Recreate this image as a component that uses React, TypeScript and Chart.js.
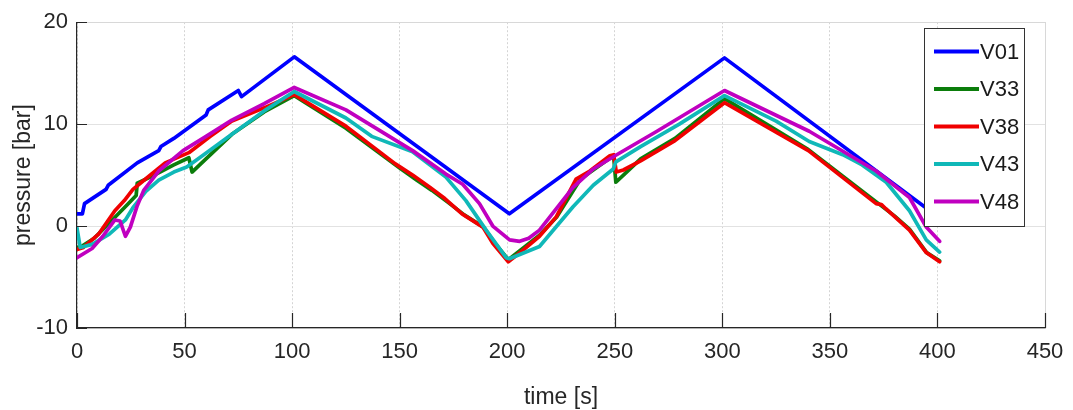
import React, { useEffect, useRef } from "react";
import { Chart, registerables } from "chart.js";

Chart.register(...registerables);

const seriesNames = ["V01", "V33", "V38", "V43", "V48"];
const seriesColors = ["#0000ff", "#0b7d0b", "#f00000", "#10b8b8", "#c000c0"];

const tV01 = [0, 2.5, 3.5, 13.5, 14.5, 28, 38, 39, 45, 60, 61, 75, 76.5, 101, 201, 301, 401];
const pV01 = [1.2, 1.2, 2.2, 3.6, 4.0, 6.2, 7.4, 7.8, 8.6, 10.9, 11.4, 13.3, 12.7, 16.6, 1.2, 16.5, 0.8];

const tV33 = [0, 2, 8, 15, 22, 27.5, 28, 35, 45, 52, 53.5, 58, 72, 87, 101, 125, 150, 158, 165, 172, 180, 189, 194, 200.5, 206, 215, 223, 234, 240, 248, 249.5, 250.5, 255, 262, 278, 301, 340, 372, 380, 387, 395, 401];
const pV33 = [-2.1, -2.0, -1.2, 0.3, 1.8, 3.0, 4.2, 4.9, 6.0, 6.7, 5.3, 6.2, 9.0, 11.2, 12.8, 9.6, 5.7, 4.5, 3.5, 2.4, 1.1, -0.1, -1.6, -3.3, -2.4, -0.9, 0.9, 4.6, 5.5, 6.7, 6.8, 4.3, 5.2, 6.6, 8.6, 12.5, 7.5, 2.3, 1.0, -0.3, -2.6, -3.4];

const tV38 = [0, 3, 10, 17.6, 22, 26, 30, 41, 52, 62, 72, 87, 101, 125, 148, 156, 164, 171, 179, 188.7, 193.3, 200.5, 206, 215, 222.8, 227.5, 232, 238.4, 247.7, 249.5, 250.7, 254, 262, 277.4, 301, 340, 371.5, 374, 376, 387, 394.8, 401];
const pV38 = [-2.3, -2.1, -0.8, 1.5, 2.5, 3.6, 4.3, 6.2, 7.2, 8.8, 10.3, 11.6, 12.9, 9.8, 6.1, 5.0, 3.8, 2.7, 1.2, -0.1, -1.7, -3.5, -2.6, -1.0, 0.9, 2.8, 4.6, 5.4, 6.9, 7.0, 5.3, 5.5, 6.4, 8.3, 12.1, 7.4, 2.2, 2.1, 1.7, -0.4, -2.6, -3.5];

const tV43 = [0, 1.5, 7, 15, 22.5, 26, 32, 38, 45, 51, 57, 72, 87, 101, 125, 137, 156, 171.5, 180.8, 190.2, 199.5, 201, 215, 230.6, 240, 249.3, 250.5, 262, 280, 301, 325, 340.4, 356, 365, 376.2, 387, 394.8, 401];
const pV43 = [-0.2, -2.1, -1.8, -0.8, 0.6, 1.8, 3.4, 4.5, 5.3, 5.8, 6.7, 9.0, 11.3, 13.2, 10.6, 8.8, 7.3, 4.8, 2.5, -0.4, -3.1, -3.2, -2.0, 1.9, 4.0, 5.6, 6.3, 7.8, 10.0, 12.8, 10.3, 8.3, 7.0, 6.0, 4.3, 1.5, -1.35, -2.55];

const tV48 = [0, 7, 12, 17.6, 20, 22.5, 24.8, 28, 31, 38, 49.3, 60, 72, 87, 101, 125, 156, 171.5, 179.3, 187.1, 193.3, 201.1, 205.8, 210, 215, 230.6, 240, 250.1, 269.6, 301, 340.4, 371.5, 387, 394.8, 401];
const pV48 = [-3.1, -2.2, -1.0, 0.6, 0.5, -1.0, -0.1, 2.0, 3.5, 5.4, 7.4, 8.8, 10.4, 12.0, 13.6, 11.4, 7.4, 5.1, 4.1, 2.2, 0.0, -1.35, -1.5, -1.2, -0.4, 3.8, 5.6, 6.9, 9.3, 13.3, 9.3, 5.4, 2.8, -0.1, -1.5];

const seriesTimes = [tV01, tV33, tV38, tV43, tV48];
const seriesValues = [pV01, pV33, pV38, pV43, pV48];

const xTicks = [0, 50, 100, 150, 200, 250, 300, 350, 400, 450];
const yTicks = [-10, 0, 10, 20];

const xTitle = "time [s]";
const yTitle = "pressure [bar]";

const FONT = "'Liberation Sans', Arial, Helvetica, sans-serif";

const overlayPlugin = {
  id: "matlabOverlay",
  afterDraw(chart: any) {
    const ctx = chart.ctx as CanvasRenderingContext2D;
    const area = chart.chartArea;
    const xs = chart.scales.x;
    const ys = chart.scales.y;
    ctx.save();
    ctx.strokeStyle = "#d8d8d8";
    ctx.lineWidth = 1;
    ctx.setLineDash([]);
    ctx.beginPath();
    ctx.moveTo(area.left, Math.round(area.top) + 0.5);
    ctx.lineTo(area.right, Math.round(area.top) + 0.5);
    ctx.moveTo(Math.round(area.right) + 0.5, area.top);
    ctx.lineTo(Math.round(area.right) + 0.5, area.bottom);
    ctx.stroke();
    ctx.strokeStyle = "#262626";
    ctx.lineWidth = 1.2;
    ctx.beginPath();
    xTicks.forEach((v) => {
      const px = Math.round(xs.getPixelForValue(v)) + 0.5;
      ctx.moveTo(px, area.bottom);
      ctx.lineTo(px, area.bottom - 15);
    });
    yTicks.forEach((v) => {
      const py = Math.round(ys.getPixelForValue(v)) + 0.5;
      ctx.moveTo(area.left, py);
      ctx.lineTo(area.left + 10, py);
    });
    ctx.stroke();

    const bx = 924.5, by = 28.5, bw = 100, bh = 198;
    ctx.fillStyle = "#ffffff";
    ctx.fillRect(bx, by, bw, bh);
    ctx.strokeStyle = "#333333";
    ctx.lineWidth = 1;
    ctx.strokeRect(bx, by, bw, bh);
    ctx.font = `22px ${FONT}`;
    ctx.textBaseline = "middle";
    ctx.textAlign = "left";
    seriesNames.forEach((name, i) => {
      const y = 51.5 + i * 37.5;
      ctx.strokeStyle = seriesColors[i];
      ctx.lineWidth = 4;
      ctx.beginPath();
      ctx.moveTo(934, y);
      ctx.lineTo(979, y);
      ctx.stroke();
      ctx.fillStyle = "#1a1a1a";
      ctx.fillText(name, 980, y + 1);
    });
    ctx.restore();
  },
};

export default function App() {
  const ref = useRef<HTMLCanvasElement | null>(null);

  useEffect(() => {
    document.body.style.margin = "0";
    const canvas = ref.current;
    if (!canvas) return;
    const datasets = seriesNames.map((name, i) => ({
      label: name,
      data: seriesTimes[i].map((t, j) => ({ x: t, y: seriesValues[i][j] })),
      borderColor: seriesColors[i],
      backgroundColor: seriesColors[i],
      borderWidth: 3.7,
      pointRadius: 0,
      showLine: true,
      tension: 0,
      fill: false,
      order: seriesNames.length - i,
      borderJoinStyle: "round" as const,
      borderCapStyle: "round" as const,
    }));

    const chart = new Chart(canvas, {
      type: "scatter",
      data: { datasets },
      options: {
        animation: false,
        responsive: false,
        devicePixelRatio: 1,
        layout: { padding: { top: 20, right: 28, left: 0, bottom: 0 } },
        plugins: {
          legend: { display: false },
          tooltip: { enabled: false },
        },
        scales: {
          x: {
            type: "linear",
            min: 0,
            max: 450,
            afterFit: (s: any) => {
              s.height = 82;
            },
            afterBuildTicks: (s: any) => {
              s.ticks = xTicks.map((v) => ({ value: v }));
            },
            ticks: {
              font: { family: FONT, size: 22, lineHeight: 1.4 },
              color: "#262626",
              padding: 9,
              maxRotation: 0,
              autoSkip: false,
            },
            grid: {
              color: "#d4d4d4",
              lineWidth: 1,
              drawTicks: false,
            },
            border: { display: true, color: "#262626", width: 1.2, dash: [2, 2] },
            title: {
              display: true,
              text: xTitle,
              font: { family: FONT, size: 23 },
              color: "#262626",
              padding: { top: 0, bottom: -1 },
            },
          },
          y: {
            type: "linear",
            min: -10,
            max: 20,
            afterFit: (s: any) => {
              s.width = 77;
            },
            afterBuildTicks: (s: any) => {
              s.ticks = yTicks.map((v) => ({ value: v }));
            },
            ticks: {
              font: { family: FONT, size: 22 },
              color: "#262626",
              padding: 9,
              autoSkip: false,
            },
            grid: {
              color: "#e2e2e2",
              lineWidth: 1,
              drawTicks: false,
            },
            border: { display: true, color: "#262626", width: 1.2 },
            title: {
              display: true,
              text: yTitle,
              font: { family: FONT, size: 23 },
              color: "#262626",
              padding: { top: 10, bottom: 0 },
            },
          },
        },
      },
      plugins: [overlayPlugin],
    });
    return () => chart.destroy();
  }, []);

  return (
    <div style={{ width: 1073, height: 410, background: "#fff" }}>
      <canvas ref={ref} width={1073} height={410} style={{ display: "block" }} />
    </div>
  );
}
